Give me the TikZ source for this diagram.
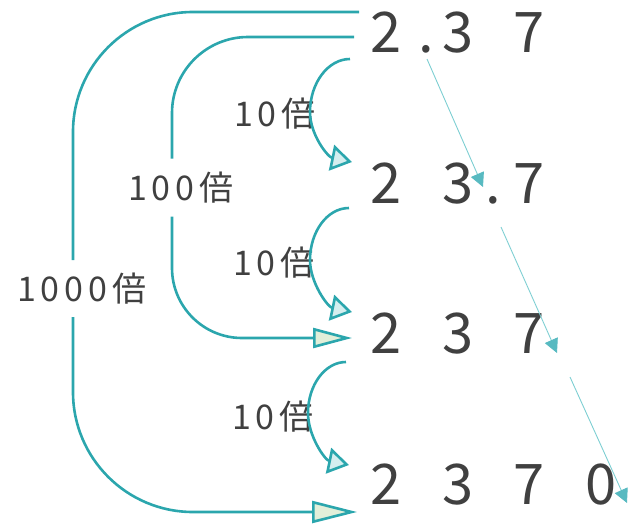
\documentclass[tikz,border=0pt]{standalone}
\usepackage{fontspec}
\setmainfont{Noto Sans CJK JP}
\newfontfamily\labfont[LetterSpace=15]{Noto Sans CJK JP}
\usetikzlibrary{arrows.meta}
\definecolor{tealc}{RGB}{43,166,173}
\definecolor{thinc}{RGB}{125,206,210}
\definecolor{thinhead}{RGB}{88,186,193}
\definecolor{cyanfill}{RGB}{213,238,239}
\definecolor{greenfill}{RGB}{226,239,217}
\definecolor{txt}{RGB}{64,64,64}
\newcommand\dg[1]{\makebox[71.5pt]{#1}}
\newcommand\dpt[1][0pt]{\makebox[0pt]{\hspace{#1}.}}
\begin{document}
\begin{tikzpicture}[x=1pt,y=-1pt,
  num/.style={anchor=base west, inner sep=0pt, text=txt, font=\fontsize{56pt}{60pt}\selectfont},
  lab/.style={inner sep=0pt, outer sep=0pt, text=txt, font=\labfont\fontsize{34pt}{36pt}\selectfont},
  curve/.style={draw=tealc, line width=2.6pt},
  tenarr/.style={curve, -{Triangle[length=21pt,width=26pt,fill=cyanfill]}},
  arrhund/.style={curve, -{Triangle[length=39pt,width=20pt,fill=greenfill]}},
  arrthou/.style={curve, -{Triangle[length=45pt,width=22pt,fill=greenfill]}},
  movearr/.style={draw=thinc, line width=0.9pt, -{Triangle[length=14pt,width=14pt,color=thinhead,fill=thinhead]}},
]
\useasboundingbox (0,0) rectangle (642,525);

% numbers
\node[num] (r1) at (350.25,52) {\dg{2}\dpt[8pt]\dg{3}\dg{7}};
\node[num] (r2) at (350.25,203) {\dg{2}\dg{3}\dpt\dg{7}};
\node[num] (r3) at (350.25,353) {\dg{2}\dg{3}\dg{7}};
\node[num] (r4) at (350.25,504) {\dg{2}\dg{3}\dg{7}\dg{0}};

% labels
\node[lab] (l10a) at (275,114) {10倍};
\node[lab] (l10b) at (274,263) {10倍};
\node[lab] (l10c) at (273,417) {10倍};
\node[lab, minimum height=58pt] (l100) at (181,187.5) {100倍};
\node[lab, minimum height=57pt] (l1000) at (82,288.5) {1000倍};

% coordinates
\coordinate (v100) at (172,0);
\coordinate (v1000) at (73,0);
\coordinate (s1000) at (359,12);
\coordinate (e1000) at (357,512);
\coordinate (s100) at (354,37);
\coordinate (e100) at (352,338);

\coordinate (s10a) at (350,59);  \coordinate (m10a) at (310,112); \coordinate (e10a) at (352,162);
\coordinate (s10b) at (349,208); \coordinate (m10b) at (310,260); \coordinate (e10b) at (352,312);
\coordinate (s10c) at (346,362); \coordinate (m10c) at (308,413); \coordinate (e10c) at (349,465);

\coordinate (a1s) at (427,59);  \coordinate (a1e) at (483,187);
\coordinate (a2s) at (501,227); \coordinate (a2e) at (557,353);
\coordinate (a3s) at (570,377); \coordinate (a3e) at (627,503);

% 1000 times
\draw[curve, rounded corners=120pt] (s1000) -| (l1000.north -| v1000);
\draw[arrthou, rounded corners=120pt] (l1000.south -| v1000) |- (e1000);

% 100 times
\draw[curve, rounded corners=76pt] (s100) -| (l100.north -| v100);
\draw[arrhund, rounded corners=70pt] (l100.south -| v100) |- (e100);

% 10 times
\draw[tenarr] (s10a) .. controls (328,59) and (310,83) .. (m10a)
  .. controls (310,135) and (328,157) .. (e10a);
\draw[tenarr] (s10b) .. controls (327,208) and (310,232) .. (m10b)
  .. controls (310,283) and (328,307) .. (e10b);
\draw[tenarr] (s10c) .. controls (325,362) and (308,385) .. (m10c)
  .. controls (308,436) and (325,460) .. (e10c);

% decimal point moves
\draw[movearr] (a1s) -- (a1e);
\draw[movearr] (a2s) -- (a2e);
\draw[movearr] (a3s) -- (a3e);
\end{tikzpicture}
\end{document}
